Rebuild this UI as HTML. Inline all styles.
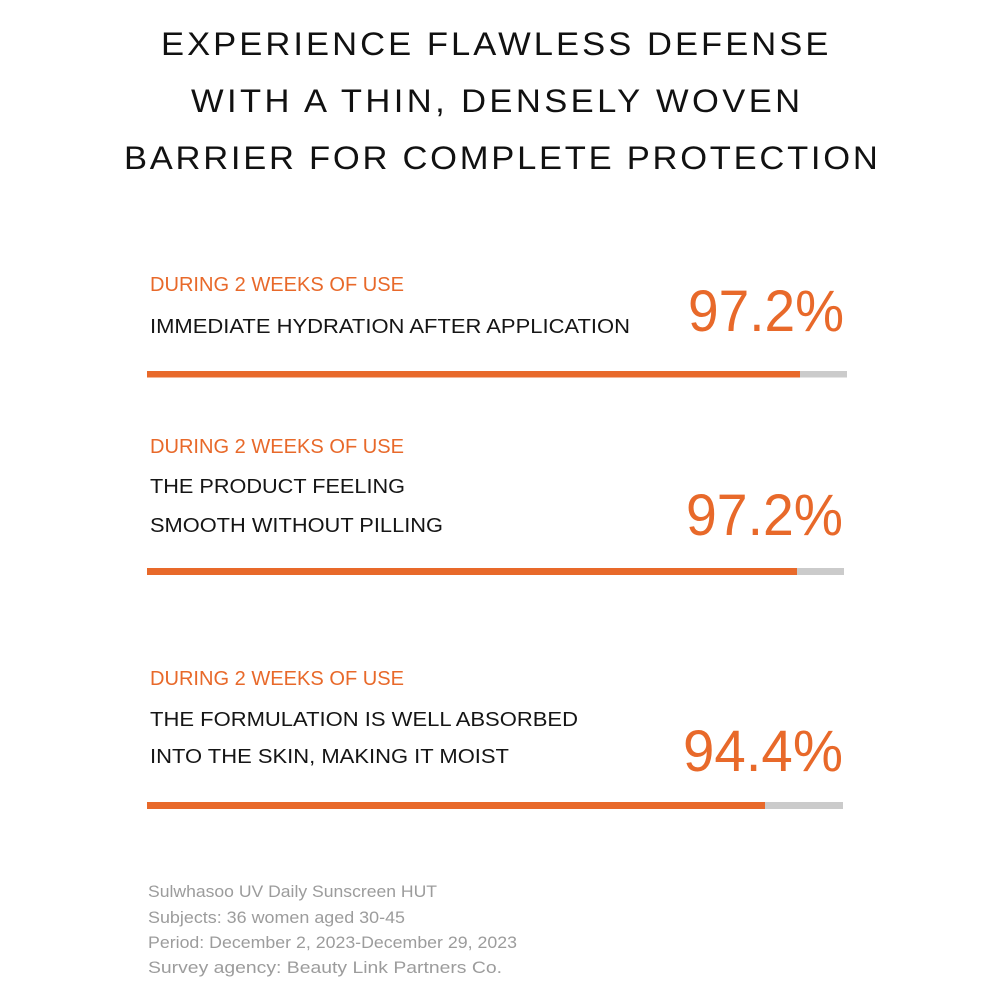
<!DOCTYPE html>
<html>
<head>
<meta charset="utf-8">
<style>
html,body{margin:0;padding:0;background:#fff;}
svg{display:block;}
.t{font-family:"Liberation Sans",sans-serif;fill:#111;font-size:32px;}
.o{font-family:"Liberation Sans",sans-serif;fill:#e8692a;font-size:20.5px;}
.b{font-family:"Liberation Sans",sans-serif;fill:#151515;font-size:20.5px;}
.p{font-family:"Liberation Sans",sans-serif;fill:#e8692a;font-size:58px;}
.f{font-family:"Liberation Sans",sans-serif;fill:#9c9c9c;font-size:17px;}
</style>
</head>
<body>
<svg width="1000" height="1000" viewBox="0 0 1000 1000" xmlns="http://www.w3.org/2000/svg">
<rect width="1000" height="1000" fill="#fff"/>
<!-- Title -->
<text class="t" transform="translate(161,55) scale(1.08,1)" x="0" y="0" textLength="618" lengthAdjust="spacing">EXPERIENCE FLAWLESS DEFENSE</text>
<text class="t" transform="translate(191,112) scale(1.08,1)" x="0" y="0" textLength="564" lengthAdjust="spacing">WITH A THIN, DENSELY WOVEN</text>
<text class="t" transform="translate(124,169) scale(1.08,1)" x="0" y="0" textLength="698" lengthAdjust="spacing">BARRIER FOR COMPLETE PROTECTION</text>

<!-- Section 1 -->
<text class="o" x="150" y="291" textLength="254" lengthAdjust="spacingAndGlyphs">DURING 2 WEEKS OF USE</text>
<text class="b" x="150" y="333" textLength="480" lengthAdjust="spacingAndGlyphs">IMMEDIATE HYDRATION AFTER APPLICATION</text>
<text class="p" x="688" y="331" textLength="156" lengthAdjust="spacingAndGlyphs">97.2%</text>
<rect x="147" y="371" width="700" height="6.5" fill="#cbcbcb"/>
<rect x="147" y="371" width="653" height="6.5" fill="#e8692a"/>

<!-- Section 2 -->
<text class="o" x="150" y="453" textLength="254" lengthAdjust="spacingAndGlyphs">DURING 2 WEEKS OF USE</text>
<text class="b" x="150" y="493" textLength="255" lengthAdjust="spacingAndGlyphs">THE PRODUCT FEELING</text>
<text class="b" x="150" y="532" textLength="293" lengthAdjust="spacingAndGlyphs">SMOOTH WITHOUT PILLING</text>
<text class="p" x="686" y="535" textLength="157" lengthAdjust="spacingAndGlyphs">97.2%</text>
<rect x="147" y="568" width="697" height="7" fill="#cbcbcb"/>
<rect x="147" y="568" width="650" height="7" fill="#e8692a"/>

<!-- Section 3 -->
<text class="o" x="150" y="685" textLength="254" lengthAdjust="spacingAndGlyphs">DURING 2 WEEKS OF USE</text>
<text class="b" x="150" y="726" textLength="428" lengthAdjust="spacingAndGlyphs">THE FORMULATION IS WELL ABSORBED</text>
<text class="b" x="150" y="763" textLength="359" lengthAdjust="spacingAndGlyphs">INTO THE SKIN, MAKING IT MOIST</text>
<text class="p" x="683" y="771" textLength="160" lengthAdjust="spacingAndGlyphs">94.4%</text>
<rect x="147" y="802" width="696" height="7" fill="#cbcbcb"/>
<rect x="147" y="802" width="618" height="7" fill="#e8692a"/>

<!-- Footer -->
<text class="f" x="148" y="897" textLength="289" lengthAdjust="spacingAndGlyphs">Sulwhasoo UV Daily Sunscreen HUT</text>
<text class="f" x="148" y="923" textLength="257" lengthAdjust="spacingAndGlyphs">Subjects: 36 women aged 30-45</text>
<text class="f" x="148" y="948" textLength="369" lengthAdjust="spacingAndGlyphs">Period: December 2, 2023-December 29, 2023</text>
<text class="f" x="148" y="973" textLength="354" lengthAdjust="spacingAndGlyphs">Survey agency: Beauty Link Partners Co.</text>
</svg>
</body>
</html>
